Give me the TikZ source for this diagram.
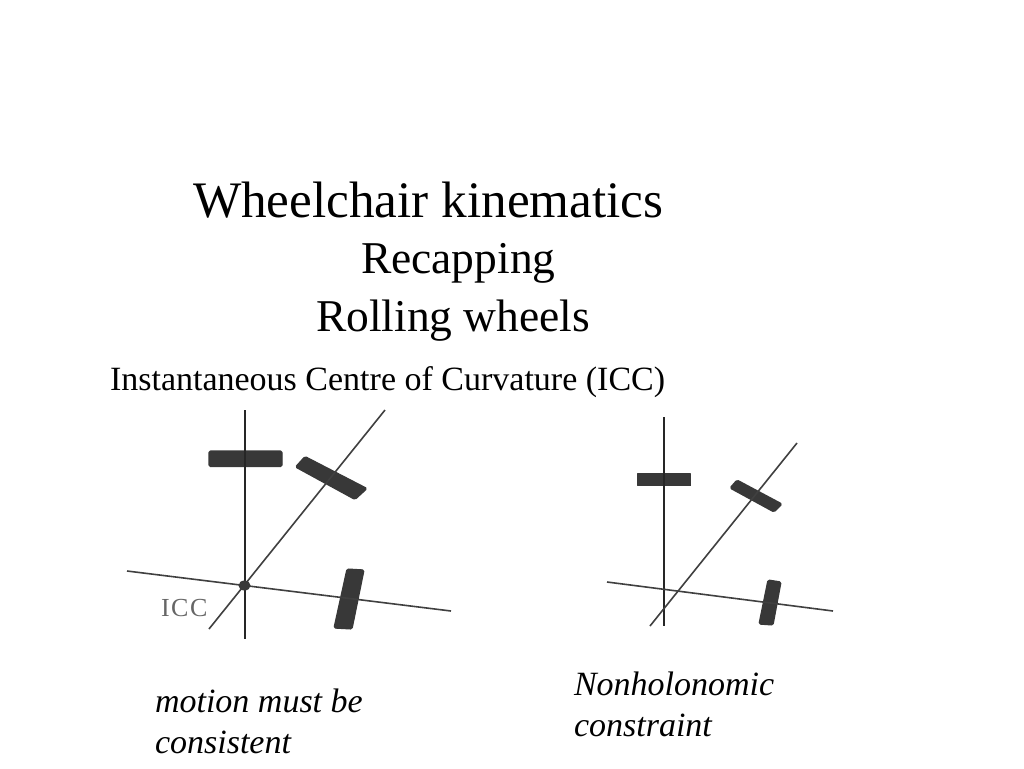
\documentclass[tikz,border=0pt]{standalone}
\usepackage{fontspec}
\usetikzlibrary{shapes.geometric}
\setmainfont{Liberation Serif}
\tikzset{
  txt/.style={anchor=base west,inner sep=0pt,outer sep=0pt,text=black},
  axisline/.style={draw=black!85,line width=2pt},
  axisthin/.style={draw=black!75,line width=1.6pt},
  wheelshape/.style={fill=black!78,draw=black!78,line width=1.2pt,rounded corners=1.5pt,line join=round}
}
\newcommand{\fsz}[1]{\fontsize{#1}{#1}\selectfont}
\begin{document}
\begin{tikzpicture}[x=1pt,y=-1pt]
\useasboundingbox (0,0) rectangle (1024,768);
\fill[white] (0,0) rectangle (1024,768);
% texts
\node[txt] (title) at (193,217) {\fsz{51.2}Wheelchair kinematics};
\node[txt] (recap) at (361,273) {\fsz{45.5}Recapping};
\node[txt] (roll) at (316,331) {\fsz{45.5}Rolling wheels};
\node[txt] (inst) at (110,390) {\fsz{34}Instantaneous Centre of Curvature (ICC)};
\node[txt] (motiona) at (155,712.5) {\fsz{34}\itshape motion must be};
\node[txt] (motionb) at (155,753.5) {\fsz{34}\itshape consistent};
\node[txt] (nona) at (574,695.5) {\fsz{34}\itshape Nonholonomic};
\node[txt] (nonb) at (574,736.5) {\fsz{34}\itshape constraint};
\node[txt,text=black!60] (icc) at (161,616.5) {\fsz{26}\addfontfeature{LetterSpace=6}ICC};
% left figure
\coordinate (lvt) at (244.5,410); \coordinate (lvb) at (244.5,639);
\coordinate (ldt) at (385,410);   \coordinate (ldb) at (209,629);
\coordinate (lhl) at (127,571);   \coordinate (lhr) at (451,611);
\fill[wheelshape] (209,451) -- (282,451) -- (282,466.5) -- (209,466.5) -- cycle;
\fill[wheelshape] (305,456.5) -- (367,488.5) -- (355,499.5) -- (295.5,467) -- cycle;
\fill[wheelshape] (347,569) -- (364,570) -- (352,629) -- (334,628) -- cycle;
\draw[axisline] (lvt) -- (lvb);
\draw[axisthin] (ldt) -- (ldb);
\draw[axisthin] (lhl) -- (lhr);
\node[ellipse,fill=black!78,inner sep=0pt,minimum width=12pt,minimum height=10pt] (iccdot) at (244.5,585.5) {};
% right figure
\coordinate (rvt) at (663.5,417); \coordinate (rvb) at (663.5,626);
\coordinate (rdt) at (797,443);   \coordinate (rdb) at (650,626);
\coordinate (rhl) at (607,582);   \coordinate (rhr) at (833,611);
\fill[wheelshape,rounded corners=0pt] (637.5,474) -- (690.5,474) -- (690.5,485.5) -- (637.5,485.5) -- cycle;
\fill[wheelshape] (737,480) -- (782,504) -- (774,512) -- (730,488) -- cycle;
\fill[wheelshape] (768,580) -- (781,582) -- (773,625) -- (759,624) -- cycle;
\draw[axisline] (rvt) -- (rvb);
\draw[axisthin] (rdt) -- (rdb);
\draw[axisthin] (rhl) -- (rhr);
\end{tikzpicture}
\end{document}
